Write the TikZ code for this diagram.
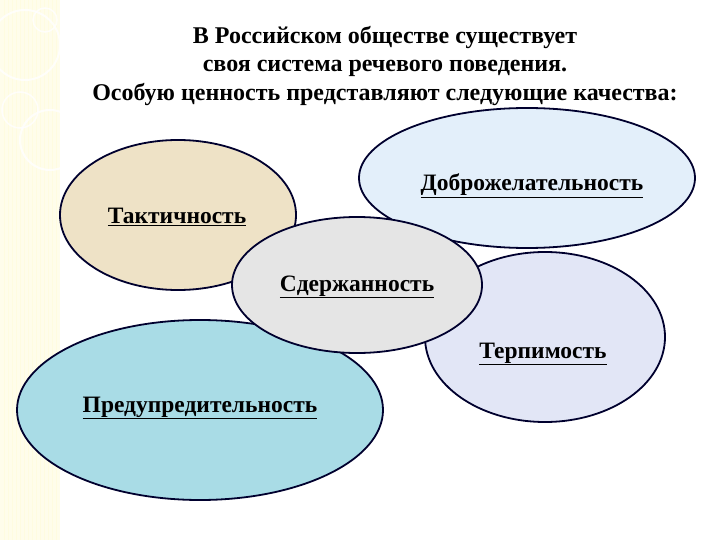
\documentclass[tikz,border=0pt]{standalone}
\usepackage{fontspec}
\setmainfont{Liberation Serif}
\definecolor{tan}{HTML}{EEE2C6}
\definecolor{aqua}{HTML}{A9DCE6}
\definecolor{sky}{HTML}{E3EFFA}
\definecolor{lilac}{HTML}{E2E6F6}
\begin{document}
\begin{tikzpicture}[x=1pt,y=-1pt,
  oval/.style={draw=black!70!blue!60!black,line width=1.8pt},
  lab/.style={font=\bfseries\fontsize{23.5}{28}\selectfont},
  ttl/.style={font=\bfseries\fontsize{24}{28.5}\selectfont,align=center}]
\useasboundingbox (0,0) rectangle (720,540);
\fill[white] (0,0) rectangle (720,540);
\fill[orange!14!yellow!8] (0,0) rectangle (60,540);
\foreach \x in {4,8,...,56} \draw[orange!18!yellow!12!white,line width=0.6pt] (\x,0)--(\x,540);
\draw[white,line width=2pt,opacity=0.8] (25,45) circle (35);
\draw[white,line width=2pt,opacity=0.8] (50,140) circle (30);
\draw[white,line width=1.5pt,opacity=0.8] (20,110) circle (18);
\draw[white,line width=1.5pt,opacity=0.8] (45,20) circle (12);
\node[ttl] (t) at (385,66) {В Российском обществе существует\\своя система речевого поведения.\\Особую ценность представляют следующие качества:};
\fill[sky] (527,178) ellipse [x radius=168,y radius=70];
\draw[oval] (527,178) ellipse [x radius=168,y radius=70];
\fill[tan] (178,215) ellipse [x radius=118,y radius=75];
\draw[oval] (178,215) ellipse [x radius=118,y radius=75];
\fill[lilac] (545,337) ellipse [x radius=120,y radius=85];
\draw[oval] (545,337) ellipse [x radius=120,y radius=85];
\fill[aqua] (200,410) ellipse [x radius=183,y radius=90];
\draw[oval] (200,410) ellipse [x radius=183,y radius=90];
\fill[black!10] (357,285) ellipse [x radius=125,y radius=68];
\draw[oval] (357,285) ellipse [x radius=125,y radius=68];
\node[lab] (a) at (532,186) {\underline{Доброжелательность}};
\node[lab] (b) at (177,217) {\underline{Тактичность}};
\node[lab] (c) at (357,287) {\underline{Сдержанность}};
\node[lab] (d) at (543,354) {\underline{Терпимость}};
\node[lab] (e) at (200,408) {\underline{Предупредительность}};
\end{tikzpicture}
\end{document}
